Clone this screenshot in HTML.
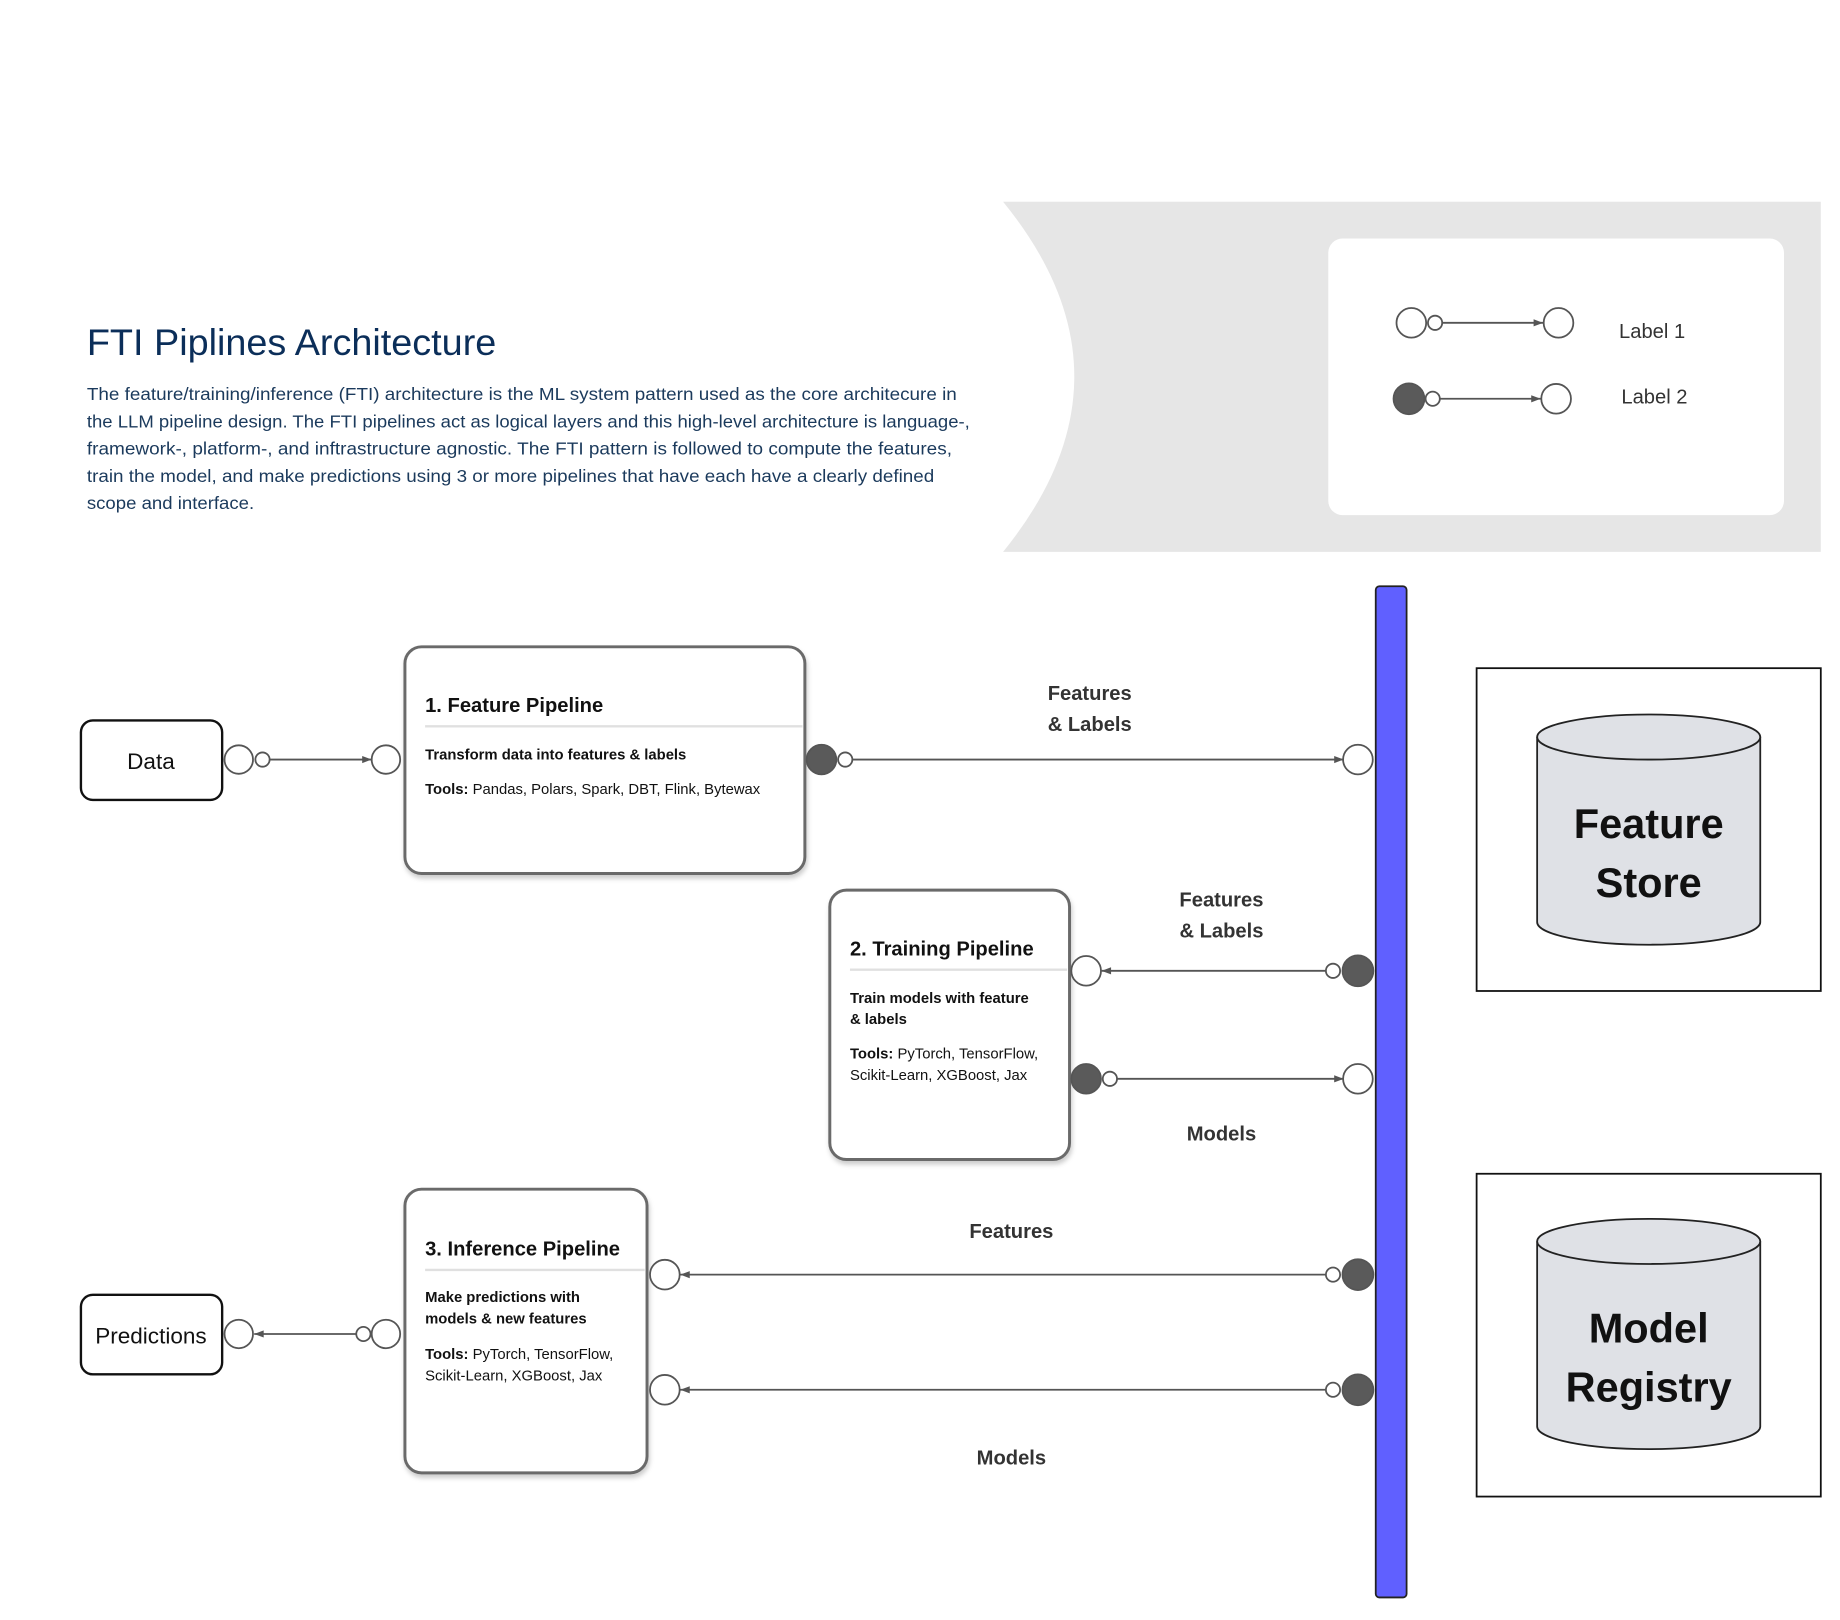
<!DOCTYPE html>
<html><head><meta charset="utf-8"><style>
html,body{margin:0;padding:0;background:#fff;}
svg{display:block;font-family:"Liberation Sans",sans-serif;}
</style></head><body>
<svg width="1840" height="1620" viewBox="0 0 1550 1365" xmlns="http://www.w3.org/2000/svg">
<defs>
<marker id="ar" markerWidth="10" markerHeight="10" refX="9" refY="5" orient="auto" markerUnits="userSpaceOnUse"><path d="M1,2 L9,5 L1,8 z" fill="#555"/></marker>
<marker id="al" markerWidth="10" markerHeight="10" refX="1" refY="5" orient="auto" markerUnits="userSpaceOnUse"><path d="M9,2 L1,5 L9,8 z" fill="#555"/></marker>
<filter id="sh" x="-10%" y="-10%" width="120%" height="120%"><feDropShadow dx="1" dy="3" stdDeviation="2" flood-color="#000" flood-opacity="0.2"/></filter>
</defs>
<path d="M845,170 L1534,170 L1534,465 L845,465 Q965,317 845,170 z" fill="#e6e6e6"/>
<rect x="1119" y="201" width="384" height="233" rx="12" fill="#fff"/>
<g stroke="#555" stroke-width="1.5" fill="#fff">
<circle cx="1189" cy="272" r="12.5"/><circle cx="1209" cy="272" r="6"/>
<line x1="1215" y1="272" x2="1300" y2="272" marker-end="url(#ar)"/>
<circle cx="1313" cy="272" r="12.5"/>
<circle cx="1187" cy="336" r="13" fill="#5a5a5a"/><circle cx="1207" cy="336" r="6"/>
<line x1="1213" y1="336" x2="1298" y2="336" marker-end="url(#ar)"/>
<circle cx="1311" cy="336" r="12.5"/>
</g>
<text x="1364" y="285" font-size="17" fill="#333">Label 1</text>
<text x="1366" y="340" font-size="17" fill="#333">Label 2</text>
<text x="73" y="299" font-size="31" fill="#0b2e59" textLength="345" lengthAdjust="spacingAndGlyphs">FTI Piplines Architecture</text>
<g font-size="14.6" fill="#1b3a5c" lengthAdjust="spacingAndGlyphs">
<text x="73" y="337" textLength="733" lengthAdjust="spacingAndGlyphs">The feature/training/inference (FTI) architecture is the ML system pattern used as the core architecure in</text>
<text x="73" y="360" textLength="744" lengthAdjust="spacingAndGlyphs">the LLM pipeline design. The FTI pipelines act as logical layers and this high-level architecture is language-,</text>
<text x="73" y="383" textLength="729" lengthAdjust="spacingAndGlyphs">framework-, platform-, and inftrastructure agnostic. The FTI pattern is followed to compute the features,</text>
<text x="73" y="406" textLength="714" lengthAdjust="spacingAndGlyphs">train the model, and make predictions using 3 or more pipelines that have each have a clearly defined</text>
<text x="73" y="429" textLength="141" lengthAdjust="spacingAndGlyphs">scope and interface.</text>
</g>
<rect x="1159" y="494" width="26" height="852" rx="3" fill="#6060ff" stroke="#222" stroke-width="1.5"/>
<rect x="68" y="607" width="119" height="67" rx="10" fill="#fff" stroke="#111" stroke-width="2"/>
<text x="127" y="648" font-size="19" text-anchor="middle" fill="#111">Data</text>
<rect x="68" y="1091" width="119" height="67" rx="10" fill="#fff" stroke="#111" stroke-width="2"/>
<text x="127" y="1132" font-size="19" text-anchor="middle" fill="#111">Predictions</text>
<g fill="#fff" stroke="#6a6a6a" stroke-width="2.5" filter="url(#sh)">
<rect x="341" y="545" width="337" height="191" rx="14"/>
<rect x="699" y="750" width="202" height="227" rx="14"/>
<rect x="341" y="1002" width="204" height="239" rx="14"/>
</g>
<g stroke="#e0e0e0" stroke-width="2">
<line x1="358" y1="612" x2="676" y2="612"/><line x1="716" y1="817" x2="899" y2="817"/><line x1="358" y1="1070" x2="543" y2="1070"/>
</g>
<g fill="#111">
<text x="358" y="600" font-size="17" font-weight="bold">1. Feature Pipeline</text>
<text x="358" y="640" font-size="12.5" font-weight="bold">Transform data into features &amp; labels</text>
<text x="358" y="669" font-size="12.5"><tspan font-weight="bold">Tools:</tspan> Pandas, Polars, Spark, DBT, Flink, Bytewax</text>
<text x="716" y="805" font-size="17" font-weight="bold">2. Training Pipeline</text>
<text x="716" y="845" font-size="12.5" font-weight="bold">Train models with feature</text>
<text x="716" y="863" font-size="12.5" font-weight="bold">&amp; labels</text>
<text x="716" y="892" font-size="12.5"><tspan font-weight="bold">Tools:</tspan> PyTorch, TensorFlow,</text>
<text x="716" y="910" font-size="12.5">Scikit-Learn, XGBoost, Jax</text>
<text x="358" y="1058" font-size="17" font-weight="bold">3. Inference Pipeline</text>
<text x="358" y="1097" font-size="12.5" font-weight="bold">Make predictions with</text>
<text x="358" y="1115" font-size="12.5" font-weight="bold">models &amp; new features</text>
<text x="358" y="1145" font-size="12.5"><tspan font-weight="bold">Tools:</tspan> PyTorch, TensorFlow,</text>
<text x="358" y="1163" font-size="12.5">Scikit-Learn, XGBoost, Jax</text>
</g>
<g stroke="#555" stroke-width="1.5" fill="#fff">
<circle cx="201" cy="640" r="12"/><circle cx="221" cy="640" r="6"/>
<line x1="227" y1="640" x2="313" y2="640" marker-end="url(#ar)"/><circle cx="325" cy="640" r="12"/>
<circle cx="692" cy="640" r="12.5" fill="#5a5a5a"/><circle cx="712" cy="640" r="6"/>
<line x1="718" y1="640" x2="1132" y2="640" marker-end="url(#ar)"/><circle cx="1144" cy="640" r="12.5"/>
<circle cx="915" cy="818" r="12.5"/><line x1="928" y1="818" x2="1117" y2="818" marker-start="url(#al)"/>
<circle cx="1123" cy="818" r="6"/><circle cx="1144" cy="818" r="13" fill="#5a5a5a"/>
<circle cx="915" cy="909" r="12.5" fill="#5a5a5a"/><circle cx="935" cy="909" r="6"/>
<line x1="941" y1="909" x2="1132" y2="909" marker-end="url(#ar)"/><circle cx="1144" cy="909" r="12.5"/>
<circle cx="560" cy="1074" r="12.5"/><line x1="573" y1="1074" x2="1117" y2="1074" marker-start="url(#al)"/>
<circle cx="1123" cy="1074" r="6"/><circle cx="1144" cy="1074" r="13" fill="#5a5a5a"/>
<circle cx="560" cy="1171" r="12.5"/><line x1="573" y1="1171" x2="1117" y2="1171" marker-start="url(#al)"/>
<circle cx="1123" cy="1171" r="6"/><circle cx="1144" cy="1171" r="13" fill="#5a5a5a"/>
<circle cx="201" cy="1124" r="12"/><line x1="214" y1="1124" x2="300" y2="1124" marker-start="url(#al)"/>
<circle cx="306" cy="1124" r="6"/><circle cx="325" cy="1124" r="12"/>
</g>
<g font-size="17" font-weight="bold" fill="#333" text-anchor="middle">
<text x="918" y="590">Features</text><text x="918" y="616">&amp; Labels</text>
<text x="1029" y="764">Features</text><text x="1029" y="790">&amp; Labels</text>
<text x="1029" y="961">Models</text>
<text x="852" y="1043">Features</text>
<text x="852" y="1234">Models</text>
</g>
<g stroke="#111" stroke-width="1.5" fill="#fff">
<rect x="1244" y="563" width="290" height="272"/>
<rect x="1244" y="989" width="290" height="272"/>
</g>
<g stroke="#222" stroke-width="1.5" fill="#dfe1e6">
<path d="M1295,621 L1295,777 A94,19 0 0 0 1483,777 L1483,621"/>
<ellipse cx="1389" cy="621" rx="94" ry="19"/>
<path d="M1295,1046 L1295,1202 A94,19 0 0 0 1483,1202 L1483,1046"/>
<ellipse cx="1389" cy="1046" rx="94" ry="19"/>
</g>
<g font-size="35" font-weight="bold" fill="#111" text-anchor="middle">
<text x="1389" y="706">Feature</text><text x="1389" y="756">Store</text>
<text x="1389" y="1131">Model</text><text x="1389" y="1181">Registry</text>
</g>
</svg>
</body></html>
